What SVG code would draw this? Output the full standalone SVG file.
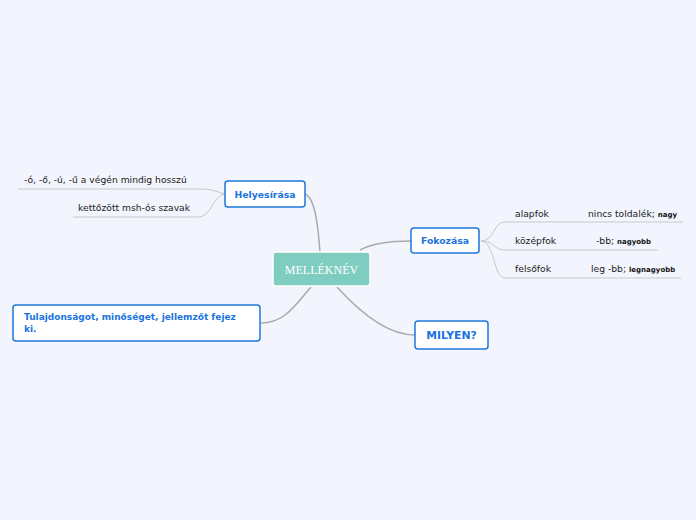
<svg xmlns="http://www.w3.org/2000/svg" width="696" height="520" viewBox="0 0 696 520">
<style>
.bg{fill:#f2f5fd}
.box{fill:#ffffff;stroke:#1c78dc;stroke-width:1.5}
.bt{font-family:"DejaVu Sans",Verdana,sans-serif;font-weight:bold;fill:#1a73e0}
.lt{font-family:"DejaVu Sans",Verdana,sans-serif;font-size:9.2px;fill:#222}
.sb{font-family:"DejaVu Sans",Verdana,sans-serif;font-size:7px;font-weight:bold;fill:#111}
.c{fill:none;stroke:#aaaaaa;stroke-width:1.5}
.l{fill:none;stroke:#c8c8cc;stroke-width:1}
</style>
<rect class="bg" x="0" y="0" width="696" height="520"/>
<g id="connectors">
<path class="c" d="M320,252 C318,225 315,198 305,194"/>
<path class="c" d="M360,250 C375,242 395,241 411,241"/>
<path class="c" d="M337,287 C365,318 390,335 415,335"/>
<path class="c" d="M311,287 C295,305 285,323 261,323"/>
<path class="l" d="M225,194 C212,190 210,189 200,189 L18,189"/>
<path class="l" d="M225,194 C212,196 212,217 198,217 L73,217"/>
<path class="l" d="M481,241 C495,241 493,222 505,222 L683,222"/>
<path class="l" d="M481,241 C495,241 493,250 505,250 L658,250"/>
<path class="l" d="M481,241 C495,241 493,278 505,278 L681,278"/>
</g>
<g id="center">
<rect x="273" y="252" width="97" height="34" rx="3" fill="#7ecdc0" stroke="#ffffff" stroke-width="1.5"/>
<text x="321.5" y="273.5" text-anchor="middle" font-family="'Liberation Serif',serif" font-size="12" fill="#ffffff">MELLÉKNÉV</text>
</g>
<g id="helyesirasa">
<rect class="box" x="225" y="181" width="80" height="26" rx="3"/>
<text class="bt" x="265" y="198" text-anchor="middle" font-size="9.3">Helyesírása</text>
</g>
<g id="leaf-h1"><text class="lt" x="24" y="183">-ó, -ő, -ú, -ű a végén mindig hosszú</text></g>
<g id="leaf-h2"><text class="lt" x="78" y="211">kettőzött msh-ós szavak</text></g>
<g id="fokozasa">
<rect class="box" x="411" y="228" width="68" height="25" rx="3"/>
<text class="bt" x="445" y="244" text-anchor="middle" font-size="9.3">Fokozása</text>
</g>
<g id="leaf-alapfok">
<text class="lt" x="515" y="217">alapfok</text>
<text class="lt" x="588" y="217">nincs toldalék; <tspan class="sb">nagy</tspan></text>
</g>
<g id="leaf-kozepfok">
<text class="lt" x="515" y="244">középfok</text>
<text class="lt" x="596" y="244">-bb; <tspan class="sb">nagyobb</tspan></text>
</g>
<g id="leaf-felsofok">
<text class="lt" x="515" y="272">felsőfok</text>
<text class="lt" x="591" y="272">leg -bb; <tspan class="sb">legnagyobb</tspan></text>
</g>
<g id="milyen">
<rect class="box" x="415" y="321" width="73" height="28" rx="3"/>
<text class="bt" x="451.5" y="339" text-anchor="middle" font-size="10.8">MILYEN?</text>
</g>
<g id="tulajdonsag">
<rect class="box" x="13" y="305" width="247" height="36" rx="3"/>
<text class="bt" x="24" y="320" font-size="9">Tulajdonságot, minőséget, jellemzőt fejez</text>
<text class="bt" x="24" y="332" font-size="9">ki.</text>
</g>
</svg>
